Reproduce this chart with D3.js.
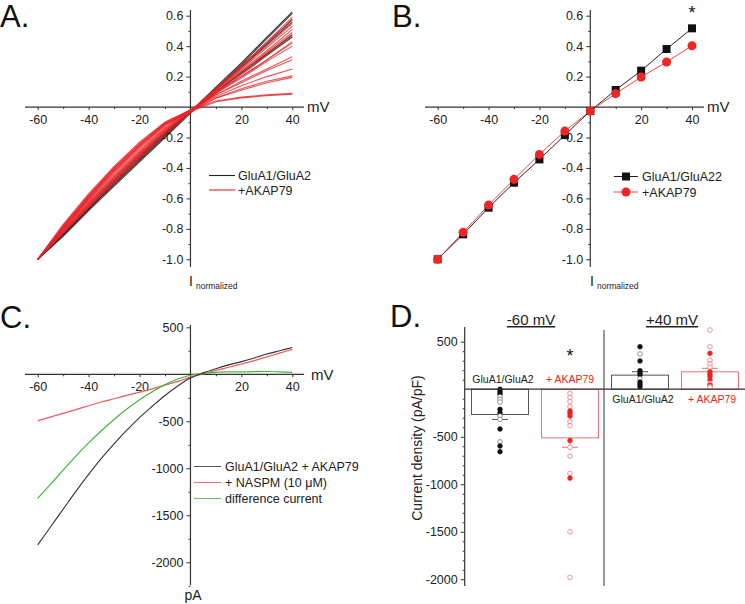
<!DOCTYPE html>
<html><head><meta charset="utf-8">
<script src="https://cdn.jsdelivr.net/npm/d3@7"></script>
<style>
body{margin:0;background:#fff}
svg{display:block}
text{font-family:'Liberation Sans',Arial,Helvetica,sans-serif}
</style>
</head><body>
<svg id="fig" width="745" height="604"></svg>
<script>
// ---------------- DATA ----------------
// Panel A: normalized I-V traces (mV steps)
const voltsA = [-60,-50,-40,-30,-20,-10,0,10,20,30,40];
const controlTracesA = [
  [-1,-0.84,-0.67,-0.51,-0.35,-0.19,-0.03,0.13,0.29,0.46,0.625],
  [-1,-0.85,-0.68,-0.52,-0.36,-0.20,-0.04,0.12,0.28,0.45,0.615],
  [-1,-0.83,-0.66,-0.50,-0.34,-0.18,-0.03,0.12,0.27,0.42,0.575],
  [-1,-0.84,-0.67,-0.50,-0.34,-0.18,-0.03,0.12,0.26,0.41,0.56],
  [-1,-0.83,-0.66,-0.49,-0.33,-0.17,-0.03,0.10,0.23,0.35,0.475],
  [-1,-0.82,-0.65,-0.48,-0.32,-0.17,-0.03,0.10,0.22,0.34,0.46]
];
const akapTracesA = [
  [-1,-0.83,-0.66,-0.49,-0.33,-0.17,-0.03,0.12,0.27,0.43,0.59],
  [-1,-0.82,-0.64,-0.47,-0.31,-0.16,-0.03,0.12,0.27,0.42,0.575],
  [-1,-0.81,-0.63,-0.46,-0.30,-0.15,-0.03,0.11,0.26,0.40,0.55],
  [-1,-0.82,-0.65,-0.48,-0.32,-0.16,-0.03,0.11,0.25,0.39,0.53],
  [-1,-0.80,-0.62,-0.45,-0.29,-0.14,-0.02,0.11,0.24,0.37,0.51],
  [-1,-0.81,-0.63,-0.46,-0.30,-0.15,-0.03,0.10,0.23,0.36,0.49],
  [-1,-0.83,-0.66,-0.50,-0.34,-0.18,-0.04,0.09,0.21,0.34,0.47],
  [-1,-0.80,-0.61,-0.43,-0.27,-0.13,-0.02,0.10,0.20,0.31,0.43],
  [-1,-0.82,-0.64,-0.47,-0.31,-0.16,-0.03,0.09,0.20,0.31,0.42],
  [-1,-0.79,-0.60,-0.42,-0.26,-0.12,-0.02,0.09,0.19,0.30,0.40],
  [-1,-0.80,-0.61,-0.44,-0.28,-0.14,-0.03,0.08,0.17,0.25,0.33],
  [-1,-0.79,-0.59,-0.41,-0.25,-0.11,-0.02,0.08,0.16,0.24,0.31],
  [-1,-0.78,-0.58,-0.40,-0.24,-0.10,-0.02,0.07,0.14,0.20,0.25],
  [-1,-0.79,-0.59,-0.41,-0.25,-0.11,-0.03,0.06,0.12,0.17,0.205],
  [-1,-0.80,-0.60,-0.42,-0.26,-0.12,-0.03,0.06,0.11,0.16,0.195],
  [-1,-0.77,-0.57,-0.39,-0.23,-0.10,-0.02,0.04,0.065,0.08,0.09],
  [-1,-0.78,-0.58,-0.40,-0.24,-0.11,-0.03,0.035,0.06,0.075,0.085]
];
// Panel B: mean normalized I-V
const voltsB = [-60,-50,-40,-30,-20,-10,0,10,20,30,40];
const controlMeanB = [-1.0,-0.836,-0.661,-0.497,-0.344,-0.184,-0.026,0.112,0.239,0.381,0.517];
const akapMeanB    = [-1.0,-0.823,-0.644,-0.475,-0.311,-0.158,-0.026,0.088,0.197,0.296,0.403];
const controlSemB  = [0,0.01,0.01,0.01,0.01,0.01,0.005,0.005,0.01,0.01,0.012];
const akapSemB     = [0,0.01,0.01,0.01,0.01,0.01,0.005,0.005,0.01,0.012,0.022];
// Panel C: example ramp currents (pA)
const voltsC = [-60,-55,-50,-45,-40,-35,-30,-25,-20,-15,-10,-5,0,5,10,15,20,25,30,35,40];
const totalC = [-1815,-1625,-1435,-1245,-1065,-895,-740,-595,-460,-340,-225,-125,-40,15,60,100,135,173,215,250,285];
const naspmC = [-495,-455,-415,-375,-335,-295,-260,-225,-190,-155,-115,-75,-30,5,40,75,110,145,185,225,265];
const diffC  = [-1320,-1170,-1020,-870,-730,-600,-480,-370,-270,-185,-110,-50,-10,10,20,25,25,28,30,25,20];
// Panel D: current density (pA/pF)
const groupsD = ["ctl-60","akap-60","ctl+40","akap+40"];
const meansD  = [-266,-512,148,183];
const semsD   = [52,99,36,37];
const valsCtl60  = [0,-26,-50,-79,-107,-135,-212,-247,-282,-317,-419,-553,-598,-658];
const fillCtl60  = [1,1,1,0,0,0,1,1,0,0,1,0,1,1];
const valsAkap60 = [-44,-86,-131,-184,-229,-254,-282,-342,-384,-540,-611,-703,-886,-935,-1500,-1980];
const fillAkap60 = [0,0,0,0,1,1,1,0,0,1,0,0,0,1,0,0];
const valsCtl40  = [447,371,297,195,170,150,110,75,50,25];
const fillCtl40  = [1,0,1,1,1,1,0,1,1,1];
const valsAkap40 = [623,447,378,307,265,231,184,157,132,97,62,44,26,20];
const fillAkap40 = [0,0,1,0,0,0,1,1,1,1,0,1,0,0];

// tick labels
const ticksAB  = [0.6,0.4,0.2,-0.2,-0.4,-0.6,-0.8,-1.0];
const tickLabAB = ["0.6","0.4","0.2","-0.2","-0.4","-0.6","-0.8","-1.0"];
const ticksV   = [-60,-40,-20,20,40];
const tickLabV = ["-60","-40","-20","20","40"];
const ticksC   = [500,-500,-1000,-1500,-2000];
const tickLabC = ["500","-500","-1000","-1500","-2000"];
const ticksD   = [500,-500,-1000,-1500,-2000];
const tickLabD = ["500","-500","-1000","-1500","-2000"];

// ---------------- DRAW ----------------
const svg = d3.select("#fig");
const FS = 12.5;
const AX = "#333";

function leftAxis(scale, x, majors, labels, minors, y0, y1) {
  const g = svg.append("g").attr("transform", `translate(${x},0)`);
  g.append("g").call(d3.axisLeft(scale).tickValues(minors).tickSize(2).tickFormat(""))
    .call(s => s.select(".domain").remove());
  g.append("g").call(d3.axisLeft(scale).tickValues(majors).tickSize(4).tickPadding(3)
      .tickFormat((d,i) => labels[i]))
    .call(s => s.select(".domain").remove());
  g.selectAll("line").attr("stroke", AX);
  g.selectAll("text").attr("font-size", FS).attr("fill", "#222")
    .attr("font-family", "'Liberation Sans',Arial,sans-serif");
  g.append("line").attr("x1",0).attr("x2",0).attr("y1",y0).attr("y2",y1)
    .attr("stroke",AX).attr("stroke-width",1.2);
  return g;
}
function bottomAxis(scale, y, majors, labels, minors, x0, x1) {
  const g = svg.append("g").attr("transform", `translate(0,${y})`);
  g.append("g").call(d3.axisBottom(scale).tickValues(minors).tickSize(2).tickFormat(""))
    .call(s => s.select(".domain").remove());
  g.append("g").call(d3.axisBottom(scale).tickValues(majors).tickSize(3).tickPadding(5)
      .tickFormat((d,i) => labels[i]))
    .call(s => s.select(".domain").remove());
  g.selectAll("line").attr("stroke", AX);
  g.selectAll("text").attr("font-size", FS).attr("fill", "#222")
    .attr("font-family", "'Liberation Sans',Arial,sans-serif");
  g.append("line").attr("x1",x0).attr("x2",x1).attr("y1",0).attr("y2",0)
    .attr("stroke",AX).attr("stroke-width",1.2);
  return g;
}
function txt(x, y, s, opts = {}) {
  return svg.append("text").attr("x", x).attr("y", y).text(s)
    .attr("font-size", opts.size || FS).attr("fill", opts.fill || "#222")
    .attr("text-anchor", opts.anchor || "start");
}
function panelLetter(x, y, s) { txt(x, y, s, {size: 31, fill: "#111"}); }
function iNorm(x, y) {
  txt(x, y, "I", {size: 14, anchor: "middle"});
  txt(x + 5, y + 3, "normalized", {size: 8.5});
}

const minorA = [0.5,0.3,0.1,-0.1,-0.3,-0.5,-0.7,-0.9];
const minorV = [-50,-30,-10,10,30];

// ===== Panel A =====
{
  const x = d3.scaleLinear().domain([-60,40]).range([37.7,292.3]);
  const y = d3.scaleLinear().domain([-1,0.6]).range([259.3,15.7]);
  leftAxis(y, x(0), ticksAB, tickLabAB, minorA, 10, 267);
  bottomAxis(x, y(0), ticksV, tickLabV, minorV, 25, 304);
  const line = d3.line().x((d,i) => x(voltsA[i])).y(d => y(d));
  svg.append("g").selectAll("path").data(controlTracesA).join("path")
    .attr("d", line).attr("fill","none").attr("stroke","#1a1a1a").attr("stroke-width",1.1).attr("stroke-opacity",0.85);
  svg.append("g").selectAll("path").data(akapTracesA).join("path")
    .attr("d", line).attr("fill","none").attr("stroke","#e8252b").attr("stroke-width",1.1).attr("stroke-opacity",0.8);
  txt(307, 112, "mV", {size: 15});
  iNorm(191, 286);
  // legend
  svg.append("line").attr("x1",209).attr("x2",235).attr("y1",175.5).attr("y2",175.5).attr("stroke","#222").attr("stroke-width",1.1);
  svg.append("line").attr("x1",209).attr("x2",235).attr("y1",190).attr("y2",190).attr("stroke","#e8252b").attr("stroke-width",1.1);
  txt(238, 180, "GluA1/GluA2");
  txt(238, 194.5, "+AKAP79");
  panelLetter(0, 27, "A.");
}

// ===== Panel B =====
{
  const x = d3.scaleLinear().domain([-60,40]).range([437.7,692]);
  const y = d3.scaleLinear().domain([-1,0.6]).range([259.3,15.7]);
  leftAxis(y, x(0), ticksAB, tickLabAB, minorA, 10, 267);
  bottomAxis(x, y(0), ticksV, tickLabV, minorV, 425, 704);
  const line = d3.line().x((d,i) => x(voltsB[i])).y(d => y(d));
  svg.append("path").datum(controlMeanB).attr("d", line).attr("fill","none").attr("stroke","#222").attr("stroke-width",1);
  svg.append("path").datum(akapMeanB).attr("d", line).attr("fill","none").attr("stroke","#f04848").attr("stroke-width",1);
  // error bars
  const eb = (means, sems, col) => svg.append("g").selectAll("line").data(means).join("line")
    .attr("x1",(d,i)=>x(voltsB[i])).attr("x2",(d,i)=>x(voltsB[i]))
    .attr("y1",(d,i)=>y(d+sems[i])).attr("y2",(d,i)=>y(d-sems[i]))
    .attr("stroke",col).attr("stroke-width",1);
  eb(controlMeanB, controlSemB, "#222");
  eb(akapMeanB, akapSemB, "#f47070");
  svg.append("g").selectAll("rect").data(controlMeanB).join("rect")
    .attr("x",(d,i)=>x(voltsB[i])-4).attr("y",d=>y(d)-4).attr("width",8).attr("height",8).attr("fill","#111");
  svg.append("g").selectAll("circle").data(akapMeanB).join("circle")
    .attr("cx",(d,i)=>x(voltsB[i])).attr("cy",d=>y(d)).attr("r",4.5).attr("fill","#f02626");
  txt(707, 112, "mV", {size: 15});
  iNorm(592, 286);
  txt(x(40), 19, "*", {size: 18, anchor: "middle", fill: "#111"});
  // legend
  svg.append("line").attr("x1",614).attr("x2",638).attr("y1",176.5).attr("y2",176.5).attr("stroke","#222");
  svg.append("rect").attr("x",622).attr("y",172.5).attr("width",8).attr("height",8).attr("fill","#111");
  svg.append("line").attr("x1",614).attr("x2",638).attr("y1",192).attr("y2",192).attr("stroke","#f04848");
  svg.append("circle").attr("cx",626).attr("cy",192).attr("r",4.5).attr("fill","#f02626");
  txt(642, 181, "GluA1/GluA22");
  txt(642, 196.5, "+AKAP79");
  panelLetter(392, 27, "B.");
}

// ===== Panel C =====
{
  const x = d3.scaleLinear().domain([-60,40]).range([37.7,292.3]);
  const y = d3.scaleLinear().domain([-2000,500]).range([562.3,327.3]);
  leftAxis(y, x(0), ticksC, tickLabC, [250,-250,-750,-1250,-1750,-2250], 325, 585);
  bottomAxis(x, y(0), ticksV, tickLabV, minorV, 25, 304);
  const line = d3.line().x((d,i) => x(voltsC[i])).y(d => y(d)).curve(d3.curveMonotoneX);
  svg.append("path").datum(naspmC).attr("d", line).attr("fill","none").attr("stroke","#f05a5a").attr("stroke-width",1.2);
  svg.append("path").datum(diffC).attr("d", line).attr("fill","none").attr("stroke","#40b840").attr("stroke-width",1.2);
  svg.append("path").datum(totalC).attr("d", line).attr("fill","none").attr("stroke","#333").attr("stroke-width",1.1);
  txt(311, 380, "mV", {size: 15});
  txt(193, 600, "pA", {size: 14, anchor: "middle"});
  const leg = [["GluA1/GluA2 + AKAP79","#555"],["+ NASPM (10 \u03bcM)","#f07070"],["difference current","#60c060"]];
  leg.forEach((l,i) => {
    const yy = 466.5 + i*16;
    svg.append("line").attr("x1",194).attr("x2",221).attr("y1",yy).attr("y2",yy).attr("stroke",l[1]).attr("stroke-width",1);
    txt(225, yy + 4.5, l[0]);
  });
  panelLetter(0, 328, "C.");
}

// ===== Panel D =====
{
  const y = d3.scaleLinear().domain([-2000,500]).range([579.3,341.7]);
  const x = d3.scaleBand().domain(groupsD).range([465,745]).paddingInner(0.186).paddingOuter(0.093);
  const minD = d3.range(-2000, 600, 100).filter(v => v % 500 !== 0);
  leftAxis(y, 464.7, ticksD, tickLabD, minD, 327, 586);
  // divider
  svg.append("line").attr("x1",604).attr("x2",604).attr("y1",330).attr("y2",586).attr("stroke","#555").attr("stroke-width",1.2);
  const cols = ["#555","#f07070","#555","#f07070"];
  const dotCol = ["#111","#ee2222","#111","#ee2222"];
  // bars
  svg.append("g").selectAll("rect").data(meansD).join("rect")
    .attr("x",(d,i)=>x(groupsD[i])).attr("width",x.bandwidth())
    .attr("y",d=>Math.min(y(d),y(0))).attr("height",d=>Math.abs(y(d)-y(0)))
    .attr("fill","#fff").attr("stroke",(d,i)=>cols[i]).attr("stroke-width",1);
  // error bars (outward)
  meansD.forEach((m,i) => {
    const cx = x(groupsD[i]) + x.bandwidth()/2;
    const e = m < 0 ? m - semsD[i] : m + semsD[i];
    svg.append("line").attr("x1",cx).attr("x2",cx).attr("y1",y(m)).attr("y2",y(e)).attr("stroke",cols[i]);
    svg.append("line").attr("x1",cx-8).attr("x2",cx+8).attr("y1",y(e)).attr("y2",y(e)).attr("stroke",cols[i]);
  });
  // dots
  const dotSets = [[valsCtl60,fillCtl60],[valsAkap60,fillAkap60],[valsCtl40,fillCtl40],[valsAkap40,fillAkap40]];
  dotSets.forEach((s,gi) => {
    const cx = x(groupsD[gi]) + x.bandwidth()/2;
    svg.append("g").selectAll("circle").data(s[0]).join("circle")
      .attr("cx",cx).attr("cy",d=>y(d)).attr("r",2.3)
      .attr("fill",(d,i)=> s[1][i] ? dotCol[gi] : "#fff")
      .attr("stroke",(d,i)=> s[1][i] ? dotCol[gi] : (gi%2 ? "#f07878" : "#777"))
      .attr("stroke-width",0.8);
  });
  // zero line
  svg.append("line").attr("x1",464.7).attr("x2",745).attr("y1",y(0)).attr("y2",y(0)).attr("stroke","#333").attr("stroke-width",1.3);
  // labels
  const bc = i => x(groupsD[i]) + x.bandwidth()/2;
  txt(bc(0)+3, 382.5, "GluA1/GluA2", {size: 10.5, anchor: "middle"});
  txt(bc(1), 382.5, "+ AKAP79", {size: 10.5, anchor: "middle", fill: "#ee2222"});
  txt(bc(2)+3, 403, "GluA1/GluA2", {size: 10.5, anchor: "middle"});
  txt(bc(3)+2, 403, "+ AKAP79", {size: 10.5, anchor: "middle", fill: "#ee2222"});
  txt(bc(1), 362, "*", {size: 18, anchor: "middle", fill: "#111"});
  const h1 = txt(531, 325, "-60 mV", {size: 15, anchor: "middle"}).attr("text-decoration","underline");
  const h2 = txt(672, 325, "+40 mV", {size: 15, anchor: "middle"}).attr("text-decoration","underline");
  svg.append("text").attr("transform","translate(422,448) rotate(-90)")
    .attr("text-anchor","middle").attr("font-size",14).attr("fill","#222").text("Current density (pA/pF)");
  panelLetter(390, 327, "D.");
}
</script>
</body></html>
